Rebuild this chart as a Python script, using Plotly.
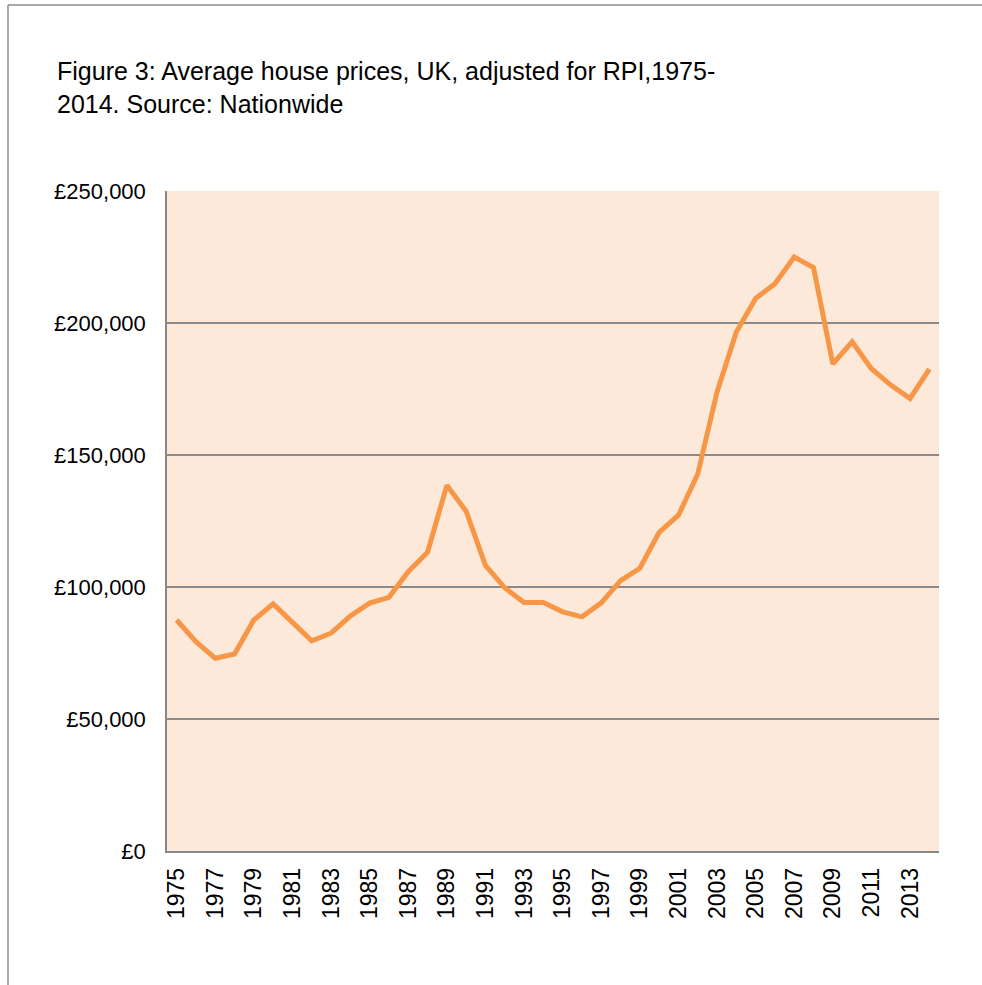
import plotly.graph_objects as go

years = list(range(1975, 2015))
prices = [87500, 79300, 73000, 74600, 87500, 93600, 86600, 79600, 82500, 89000,
          93900, 96100, 105800, 113200, 138500, 128700, 108200, 99700, 94100, 94100,
          90600, 88700, 94000, 102400, 107100, 120700, 127200, 142800, 173900, 196600,
          209300, 214900, 225000, 221000, 184500, 192900, 182700, 176500, 171400, 182500]
tick_years = list(range(1975, 2014, 2))
y_ticks = [0, 50000, 100000, 150000, 200000, 250000]
y_tick_labels = ["£0", "£50,000", "£100,000", "£150,000", "£200,000", "£250,000"]

L, R, T, B = 167, 43, 191, 134
W, H = 982, 985
pw, ph = W - L - R, H - T - B

def px_x(p):
    return (p - L) / pw

def px_y(p):
    return (H - B - p) / ph

fig = go.Figure()
fig.add_trace(go.Scatter(x=years, y=prices, mode="lines",
                         line=dict(color="#f79646", width=5), hoverinfo="x+y"))

fig.update_layout(
    width=W, height=H,
    margin=dict(l=L, r=R, t=T, b=B, pad=0),
    paper_bgcolor="white",
    plot_bgcolor="#fde9d9",
    showlegend=False,
    font=dict(family="Liberation Sans, Arial, sans-serif", color="black", size=22),
    xaxis=dict(range=[1974.5, 2014.5], tickvals=tick_years, ticktext=[str(y) for y in tick_years],
               tickangle=-90, showgrid=False, zeroline=False, showline=True,
               linecolor="#888888", linewidth=1.5, ticks="", ticklen=0,
               ticklabelstandoff=6, tickfont=dict(size=23)),
    yaxis=dict(range=[0, 250000], tickvals=y_ticks, ticktext=y_tick_labels,
               showgrid=True, gridcolor="#8a8a8a", gridwidth=1.5, zeroline=False,
               showline=True, linecolor="#888888", linewidth=1.5, ticks="",
               ticklabelstandoff=15, tickfont=dict(size=22)),
    annotations=[dict(
        text="Figure 3: Average house prices, UK, adjusted for RPI,1975-<br>2014. Source: Nationwide",
        xref="paper", yref="paper", x=px_x(55), y=px_y(55), xanchor="left", yanchor="top",
        align="left", showarrow=False, font=dict(size=25, color="black"))],
    shapes=[
        dict(type="line", xref="paper", yref="paper", x0=px_x(8), x1=px_x(990), y0=px_y(5), y1=px_y(5),
             line=dict(color="#8c8c8c", width=1.5)),
        dict(type="line", xref="paper", yref="paper", x0=px_x(8), x1=px_x(8), y0=px_y(5), y1=px_y(995),
             line=dict(color="#8c8c8c", width=1.5)),
    ],
)

fig.write_html("out.html")
